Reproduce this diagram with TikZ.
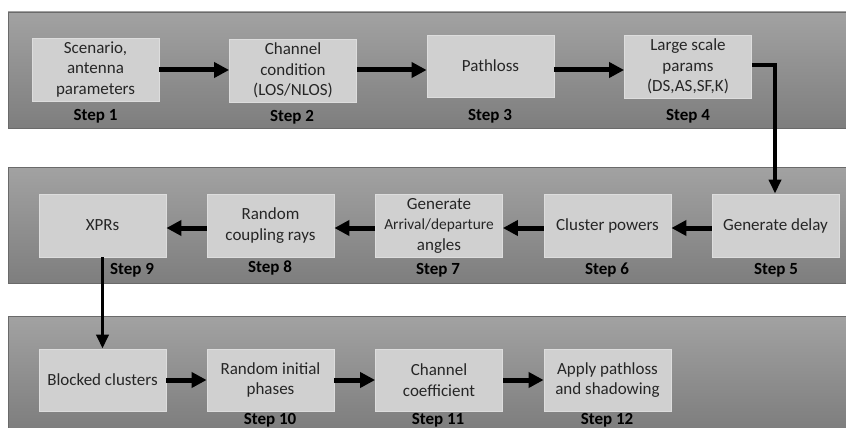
\documentclass[tikz,border=0pt]{standalone}
\usepackage{fontspec}
\setmainfont{Carlito}
\usetikzlibrary{arrows.meta,calc}
\definecolor{bandtop}{HTML}{A2A2A2}
\definecolor{bandbot}{HTML}{7E7E7E}
\definecolor{bandline}{HTML}{6A6A6A}
\definecolor{boxfill}{HTML}{D0D0D0}
\definecolor{boxline}{HTML}{DDDDDD}
\definecolor{txt}{HTML}{262626}
\tikzset{
  stepbox/.style={rectangle, fill=boxfill, draw=boxline, line width=0.8pt,
    minimum width=127pt, align=center, text=txt,
    font=\fontsize{17}{20.5}\selectfont, inner sep=0pt},
  steplabel/.style={font=\bfseries\fontsize{17}{20}\selectfont, text=black, inner sep=0pt},
  harrow/.style={line width=5pt, -{Triangle[length=15pt,width=15pt]}},
  varrow/.style={line width=3.6pt, -{Triangle[length=14pt,width=12pt]}},
}
\begin{document}
\begin{tikzpicture}[x=1pt,y=-1pt]
\useasboundingbox (0,0) rectangle (846,428);
% bands
\shade[top color=bandtop, bottom color=bandbot] (8,12) rectangle (846,128);
\draw[bandline, line width=0.8pt] (846,12) -- (8,12) -- (8,128) -- (846,128);
\shade[top color=bandtop, bottom color=bandbot] (8,167) rectangle (846,283);
\draw[bandline, line width=0.8pt] (846,167) -- (8,167) -- (8,283) -- (846,283);
\shade[top color=bandtop, bottom color=bandbot] (8,316) rectangle (846,428);
\draw[bandline, line width=0.8pt] (846,316) -- (8,316) -- (8,428);
% row 1
\node[stepbox, minimum height=63pt] (s1) at (95.5,69.5) {Scenario,\\antenna\\parameters};
\node[stepbox, minimum height=63pt] (s2) at (293,70.5) {Channel\\condition\\(LOS/NLOS)};
\node[stepbox, minimum height=62pt] (s3) at (490.5,66) {Pathloss};
\node[stepbox, minimum height=63pt] (s4) at (688,66.5) {Large scale\\params\\(DS,AS,SF,K)};
\node[steplabel] (l1) at (95.5,116) {Step 1};
\node[steplabel] (l2) at (292,117) {Step 2};
\node[steplabel] (l3) at (490,116) {Step 3};
\node[steplabel] (l4) at (688,116) {Step 4};
% row 2
\node[stepbox, minimum height=63pt] (s9) at (102.5,225.5) {XPRs};
\node[stepbox, minimum height=63pt] (s8) at (270.5,225.5) {Random\\coupling rays};
\node[stepbox, minimum height=63pt] (s7) at (439,225.5) {Generate\\{\fontsize{15.4}{20.5}\selectfont Arrival/departure}\\angles};
\node[stepbox, minimum height=63pt] (s6) at (607.5,225.5) {Cluster powers};
\node[stepbox, minimum height=63pt] (s5) at (775.5,225.5) {Generate delay};
\node[steplabel] (l9) at (132,270) {Step 9};
\node[steplabel] (l8) at (270,268) {Step 8};
\node[steplabel] (l7) at (438,270) {Step 7};
\node[steplabel] (l6) at (607,270) {Step 6};
\node[steplabel] (l5) at (776,270) {Step 5};
% row 3
\node[stepbox, minimum height=62pt] (sb) at (102.5,380) {Blocked clusters};
\node[stepbox, minimum height=62pt] (s10) at (270.5,380) {Random initial\\phases};
\node[stepbox, minimum height=62pt] (s11) at (439,380) {Channel\\coefficient};
\node[stepbox, minimum height=62pt] (s12) at (607.5,380) {Apply pathloss\\and shadowing};
\node[steplabel] (l10) at (270,420) {Step 10};
\node[steplabel] (l11) at (438,420) {Step 11};
\node[steplabel] (l12) at (607,420) {Step 12};
% arrows
\coordinate (r1) at (0,70);
\coordinate (r2) at (0,228);
\coordinate (r3) at (0,380);
\draw[harrow] (s1.east |- r1) -- (s2.west |- r1);
\draw[harrow] (s2.east |- r1) -- (s3.west |- r1);
\draw[harrow] (s3.east |- r1) -- (s4.west |- r1);
\draw[harrow] (s5.west |- r2) -- (s6.east |- r2);
\draw[harrow] (s6.west |- r2) -- (s7.east |- r2);
\draw[harrow] (s7.west |- r2) -- (s8.east |- r2);
\draw[harrow] (s8.west |- r2) -- (s9.east |- r2);
\draw[harrow] (sb.east |- r3) -- (s10.west |- r3);
\draw[harrow] (s10.east |- r3) -- (s11.west |- r3);
\draw[harrow] (s11.east |- r3) -- (s12.west |- r3);
\coordinate (c4) at (775,65);
\draw[varrow] (s4.east |- c4) -- (c4) -- (c4 |- s5.north);
\draw[varrow] (s9.south) -- (sb.north);
\end{tikzpicture}
\end{document}
